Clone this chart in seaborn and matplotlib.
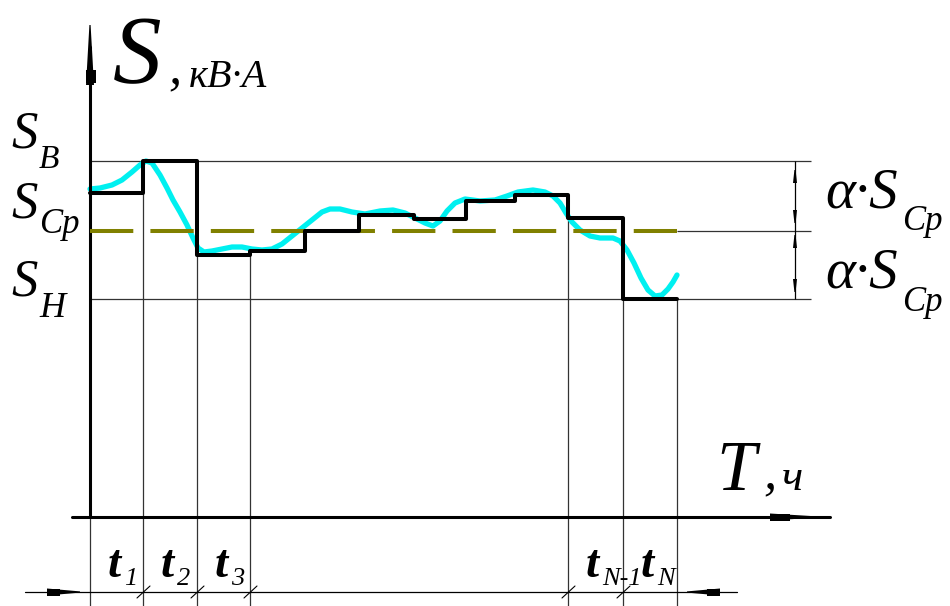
import matplotlib
matplotlib.use("Agg")
import matplotlib.pyplot as plt
import seaborn as sns
import numpy as np

# load-graph data (origin at the axes crossing)
t_edges = [0, 53, 107, 160, 215, 269, 324, 376, 425, 478, 533, 587]
s_steps = [324, 356, 262, 266, 286, 302, 298, 316, 322, 299, 218]

curve_t = [0, 10, 22, 32, 42, 50, 56, 62, 70, 77, 83, 90, 97, 103, 108, 114, 122, 132,
           142, 152, 162, 172, 182, 192, 202, 212, 222, 232, 240, 250, 262, 275, 290, 303,
           315, 325, 335, 343, 350, 357, 365, 375, 390, 405, 417, 428, 443, 455, 463, 470,
           476, 482, 490, 500, 510, 523, 530, 537, 544, 551, 558, 565, 572, 578, 583, 587]
curve_s = [328, 329, 332, 337, 345, 352, 356, 354, 342, 329, 317, 305, 292, 279, 269, 265,
           266, 268, 270, 270, 268, 267, 268, 273, 281, 289, 297, 305, 308, 308, 305, 303,
           306, 307, 304, 299, 294, 291, 296, 306, 314, 318, 316, 317, 321, 325, 327, 325,
           321, 314, 304, 295, 287, 281, 279, 279, 276, 267, 254, 239, 227, 221, 222, 228,
           235, 242]

s_upper = 356   # S_B
s_mean = 286    # S_Cp
s_lower = 218   # S_H

interval_labels = ["1", "2", "3", "N-1", "N"]
interval_idx = [0, 1, 2, 9, 10]

sns.set_style("white")
plt.rcParams['font.family'] = ['Liberation Serif', 'DejaVu Serif']

fig = plt.figure(figsize=(9.5, 6.06), dpi=100)
ax = fig.add_axes([0, 0, 1, 1])
ax.set_xlim(-90, 860)
ax.set_ylim(-89, 517)
ax.axis('off')

thin = dict(color='#333333', lw=0.9, zorder=1)


def blob(tip, d, length, width, z=5):
    # drafting style tapered arrow head
    tip = np.array(tip, float)
    d = np.array(d, float)
    n = np.array([-d[1], d[0]])
    base = tip - d * length
    pts = [tip + n * 0.6, base + n * width / 2, base - n * width / 2, tip - n * 0.6]
    xs, ys = zip(*pts)
    ax.fill(xs, ys, color='black', lw=0, zorder=z)


# reference levels
ax.hlines([s_upper, s_lower], 0, 721, **thin)
ax.hlines(s_mean, t_edges[-1], 721, **thin)

# vertical interval lines down to the bottom
for i in [1, 2, 3, 9, 10, 11]:
    left = s_steps[i - 1]
    right = s_steps[i] if i < len(s_steps) else left
    ax.vlines(t_edges[i], -89, min(left, right), **thin)
ax.vlines(0, -89, 0, **thin)

# axes
ax.plot([0, 0], [0, 470], color='black', lw=2.2, zorder=4)
blob((0, 492), (0, 1), 60, 8)
ax.fill([-4, 6, 6, -4], [434, 434, 447, 447], color='black', lw=0, zorder=5)
ax.plot([-18, 740], [0, 0], color='black', lw=2.2, zorder=4)
blob((727, 0), (1, 0), 47, 7)
ax.fill([680, 700, 700, 680], [-3.5, -3.5, 3.5, 3.5], color='black', lw=0, zorder=5)

# bottom dimension line
ax.plot([-65, 647], [-75, -75], color='black', lw=0.9, zorder=2)
blob((-10, -75), (1, 0), 33, 7)
ax.fill([-43, -30, -30, -43], [-78.5, -78.5, -71.5, -71.5], color='black', lw=0, zorder=5)
blob((597, -75), (-1, 0), 33, 7)
ax.fill([617, 630, 630, 617], [-78.5, -78.5, -71.5, -71.5], color='black', lw=0, zorder=5)
for i in [1, 2, 3, 9, 10]:
    x = t_edges[i]
    ax.plot([x - 6, x + 7], [-81, -69], color='black', lw=0.8, zorder=2)

# alpha*S dimension at the right
ax.vlines(705, s_lower, s_upper, color='black', lw=0.9, zorder=2)
blob((705, s_upper - 9), (0, 1), 13, 4)
blob((705, s_mean + 8), (0, -1), 13, 4)
blob((705, s_mean - 4), (0, 1), 13, 4)
blob((705, s_lower + 7), (0, -1), 13, 4)

# load curve and stepped approximation
sns.lineplot(x=curve_t, y=curve_s, color='#00F0F0', lw=3.8, estimator=None,
             sort=False, ax=ax, zorder=3)
ax.hlines(s_mean, 0, t_edges[-1], color='#808000', lw=2.9,
          linestyles=(0, (10.75, 4.25)), zorder=4)
sns.lineplot(x=t_edges, y=s_steps + [s_steps[-1]], color='black', lw=2.9,
             drawstyle='steps-post', estimator=None, ax=ax, zorder=6)

it = dict(style='italic', va='baseline', ha='left', color='black')

# axis titles
ax.text(23, 434, "S", fontsize=70, **it)
ax.text(78, 435, ",", fontsize=38, **it)
ax.text(99, 430, "кВ·А", fontsize=29, **it)
ax.text(626, 27, "T", fontsize=51, **it)
ax.text(673, 30, ",", fontsize=38, **it)
ax.text(692, 27, "ч", fontsize=32, **it)

# level labels on the left
ax.text(-79, 370, "S", fontsize=38, **it)
ax.text(-51, 349, "В", fontsize=24, **it)
ax.text(-79, 300, "S", fontsize=38, **it)
ax.text(-51, 284, "Ср", fontsize=25, **it)
ax.text(-79, 222, "S", fontsize=38, **it)
ax.text(-51, 200, "Н", fontsize=26, **it)

# alpha*S_Cp labels
for base in [310, 229]:
    ax.text(735, base, "α·S", fontsize=41, **it)
    ax.text(812, base - 23, "Ср", fontsize=25, **it)

# interval labels
for lab, i in zip(interval_labels, interval_idx):
    x = t_edges[i]
    ax.text(x + 18, -60, "t", fontsize=34, fontweight='bold', **it)
    ax.text(x + 34, -68, lab, fontsize=19, **it)

fig.savefig("out.png", dpi=100)
